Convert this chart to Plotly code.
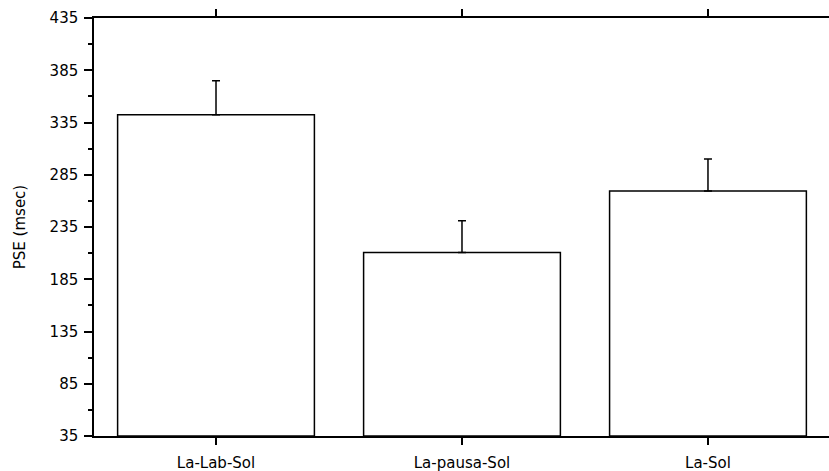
import plotly.graph_objects as go

categories = ["La-Lab-Sol", "La-pausa-Sol", "La-Sol"]
pse_means = [342.5, 210.5, 269.5]
pse_err = [32.5, 30.5, 30.5]
y_ticks = [35, 85, 135, 185, 235, 285, 335, 385, 435]

fig = go.Figure()
fig.add_trace(go.Bar(
    x=categories, y=[m - 35 for m in pse_means], base=35,
    width=0.8,
    marker=dict(color="white", line=dict(color="black", width=1.5)),
    error_y=dict(type="data", array=pse_err, arrayminus=[0] * 3, symmetric=False,
                 color="black", thickness=1.5, width=4),
))

font = "DejaVu Sans"
fig.update_layout(
    width=829, height=471,
    margin=dict(l=94, r=0, t=17.5, b=35),
    paper_bgcolor="white", plot_bgcolor="white",
    showlegend=False,
    font=dict(family=font, size=15, color="black"),
    xaxis=dict(
        range=[-0.496, 2.492], automargin=False,
        showline=True, linecolor="black", linewidth=1.5,
        mirror="ticks", ticks="outside", ticklen=7, tickwidth=1.5, tickcolor="black",
        showgrid=False, zeroline=False,
        tickfont=dict(family=font, size=15),
        ticklabelstandoff=5,
    ),
    yaxis=dict(
        range=[35, 435], automargin=False,
        tickmode="array", tickvals=y_ticks, ticktext=[str(v) for v in y_ticks],
        showline=True, linecolor="black", linewidth=1.5,
        ticks="outside", ticklen=8, tickwidth=1.5, tickcolor="black",
        minor=dict(tickvals=[v + 25 for v in y_ticks[:-1]], ticks="outside",
                   ticklen=4, tickwidth=1.5, tickcolor="black", showgrid=False),
        showgrid=False, zeroline=False,
        tickfont=dict(family=font, size=15),
        ticklabelstandoff=3,
        title=dict(text="PSE (msec)", font=dict(family=font, size=15), standoff=20),
    ),
)

fig.write_html(
    "out.html",
    config={"displayModeBar": False},
    post_script="document.body.style.margin='0';document.body.style.overflow='hidden';",
)
